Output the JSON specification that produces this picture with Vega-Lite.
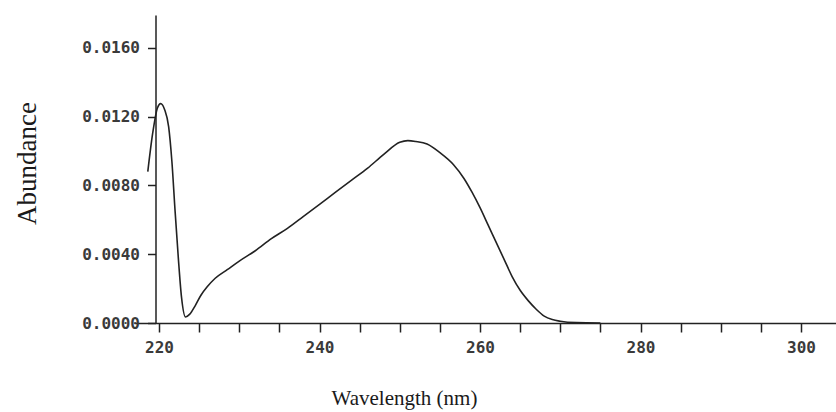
{
  "$schema": "https://vega.github.io/schema/vega-lite/v6.json",
  "width": 702,
  "height": 308,
  "autosize": {"type": "none"},
  "padding": {"left": 134, "top": 15, "right": 0, "bottom": 89},
  "background": "white",
  "config": {"view": {"stroke": null}},
  "data": {"values": [
    {"nm": 218.6, "abundance": 0.0088},
    {"nm": 219.2, "abundance": 0.0110},
    {"nm": 219.8, "abundance": 0.0125},
    {"nm": 220.2, "abundance": 0.01275},
    {"nm": 220.7, "abundance": 0.0124},
    {"nm": 221.2, "abundance": 0.0114},
    {"nm": 221.6, "abundance": 0.0094},
    {"nm": 222.0, "abundance": 0.0065},
    {"nm": 222.4, "abundance": 0.0038},
    {"nm": 222.8, "abundance": 0.0015},
    {"nm": 223.3, "abundance": 0.00035},
    {"nm": 223.8, "abundance": 0.0005},
    {"nm": 224.5, "abundance": 0.0010},
    {"nm": 225.2, "abundance": 0.0016},
    {"nm": 226.0, "abundance": 0.0021},
    {"nm": 227.0, "abundance": 0.0026},
    {"nm": 228.5, "abundance": 0.0031},
    {"nm": 230.0, "abundance": 0.0036},
    {"nm": 232.0, "abundance": 0.0042},
    {"nm": 234.0, "abundance": 0.0049},
    {"nm": 236.0, "abundance": 0.0055},
    {"nm": 238.0, "abundance": 0.0062},
    {"nm": 240.0, "abundance": 0.0069},
    {"nm": 242.0, "abundance": 0.0076},
    {"nm": 244.0, "abundance": 0.0083},
    {"nm": 246.0, "abundance": 0.0090},
    {"nm": 248.0, "abundance": 0.0098},
    {"nm": 250.0, "abundance": 0.0105},
    {"nm": 251.0, "abundance": 0.0106},
    {"nm": 252.0, "abundance": 0.01055},
    {"nm": 253.4, "abundance": 0.0104},
    {"nm": 255.0, "abundance": 0.0099},
    {"nm": 256.7, "abundance": 0.0092},
    {"nm": 258.0, "abundance": 0.0084},
    {"nm": 259.0, "abundance": 0.0076},
    {"nm": 260.0, "abundance": 0.0067},
    {"nm": 261.0, "abundance": 0.0057},
    {"nm": 262.0, "abundance": 0.0047},
    {"nm": 263.0, "abundance": 0.0037},
    {"nm": 264.0, "abundance": 0.0027},
    {"nm": 265.0, "abundance": 0.0019},
    {"nm": 266.0, "abundance": 0.0013},
    {"nm": 267.0, "abundance": 0.0008},
    {"nm": 268.0, "abundance": 0.0004},
    {"nm": 269.0, "abundance": 0.0002},
    {"nm": 270.0, "abundance": 0.0001},
    {"nm": 272.0, "abundance": 0.00002},
    {"nm": 275.0, "abundance": 0.0}
  ]},
  "mark": {"type": "line", "color": "#222222", "strokeWidth": 1.6, "interpolate": "monotone"},
  "encoding": {
    "x": {
      "field": "nm", "type": "quantitative",
      "scale": {"domain": [216.88, 304.36], "nice": false, "zero": false},
      "axis": {
        "title": "Wavelength  (nm)",
        "titleFont": "Liberation Serif", "titleFontSize": 21, "titleFontWeight": "normal", "titleColor": "#1a1a1a",
        "titleX": 270, "titleY": 75, "titleBaseline": "middle",
        "values": [220, 225, 230, 235, 240, 245, 250, 255, 260, 265, 270, 275, 280, 285, 290, 295, 300],
        "labelExpr": "datum.value % 20 == 0 ? datum.value : ''",
        "labelFont": "DejaVu Sans Mono", "labelFontSize": 16, "labelFontWeight": "bold", "labelColor": "#3a3a3a",
        "labelPadding": 7,
        "tickSize": 9, "tickColor": "#222222", "tickWidth": 1.5,
        "domainColor": "#222222", "domainWidth": 1.5,
        "grid": false
      }
    },
    "y": {
      "field": "abundance", "type": "quantitative",
      "scale": {"domain": [0, 0.0179], "nice": false},
      "axis": {
        "title": "Abundance",
        "titleFont": "Liberation Serif", "titleFontSize": 27, "titleFontWeight": "normal", "titleColor": "#1a1a1a",
        "titleX": -128, "titleY": 148, "titleAngle": -90, "titleAlign": "center", "titleBaseline": "middle",
        "offset": -21.5,
        "values": [0, 0.004, 0.008, 0.012, 0.016],
        "format": ".4f",
        "labelFont": "DejaVu Sans Mono", "labelFontSize": 16, "labelFontWeight": "bold", "labelColor": "#3a3a3a",
        "labelPadding": 8,
        "tickSize": 8, "tickColor": "#222222", "tickWidth": 1.5,
        "domainColor": "#222222", "domainWidth": 1.5,
        "grid": false
      }
    }
  }
}
